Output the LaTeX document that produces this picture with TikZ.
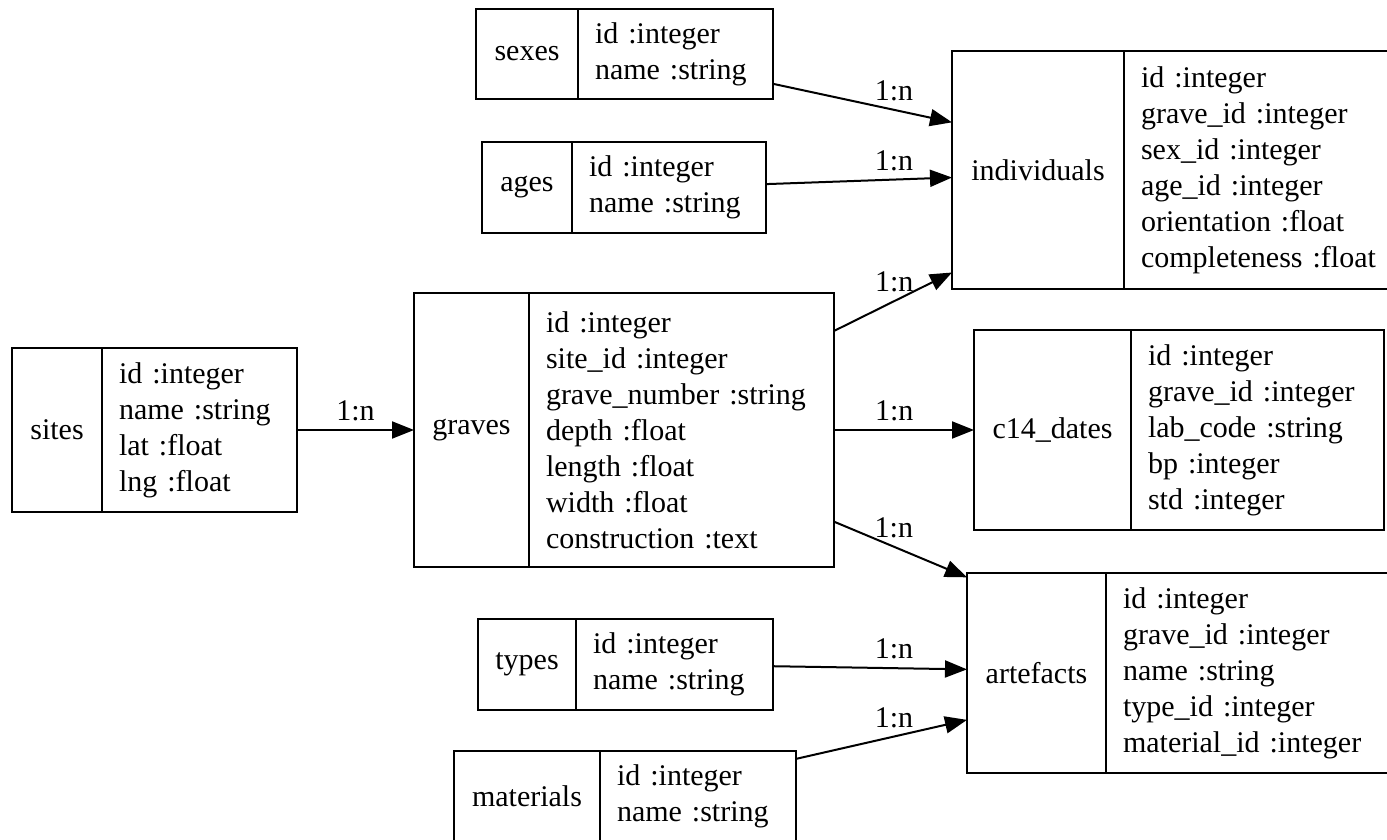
\documentclass[tikz,border=0pt]{standalone}
\usepackage{fontspec}
\setmainfont{Liberation Serif}
\usetikzlibrary{positioning,
	arrows.meta}
\tikzset{
	tname/.style={draw, line width=1pt, inner sep=0pt, outer sep=0pt, anchor=north west},
	tfields/.style={draw, line width=1pt, inner xsep=8.5pt, inner ysep=0pt, outer sep=0pt, align=left, anchor=north west},
	rel/.style={-{Triangle[length=11pt,width=8.5pt]}, line width=1pt},
	card/.style={above=4pt, inner sep=0pt}
}

\begin{document}
\begin{tikzpicture}[x=0.5pt, y=-0.5pt, font=\fontsize{15}{18}\selectfont]
	\useasboundingbox (0,0) rectangle (1387,840);
	% tables
	\node (sites) [tname, minimum width=45pt, minimum height=82pt] at (12,348) {sites};
	\node (sitesf) [tfields, text width=80.5pt, minimum height=82pt] at (sites.north east) {id :integer\\name :string\\lat :float\\lng :float};
	\node (sexes) [tname, minimum width=51pt, minimum height=45pt] at (476,9) {sexes};
	\node (sexesf) [tfields, text width=80.5pt, minimum height=45pt] at (sexes.north east) {id :integer\\name :string};
	\node (ages) [tname, minimum width=45pt, minimum height=45.5pt] at (482,142) {ages};
	\node (agesf) [tfields, text width=80pt, minimum height=45.5pt] at (ages.north east) {id :integer\\name :string};
	\node (individuals) [tname, minimum width=86pt, minimum height=119pt] at (952,51) {individuals};
	\node (individualsf) [tfields, text width=125pt, minimum height=119pt] at (individuals.north east) {id :integer\\grave\_id :integer\\sex\_id :integer\\age\_id :integer\\orientation :float\\completeness :float};
	\node (graves) [tname, minimum width=57.5pt, minimum height=137pt] at (414,293) {graves};
	\node (gravesf) [tfields, text width=135.5pt, minimum height=137pt] at (graves.north east) {id :integer\\site\_id :integer\\grave\_number :string\\depth :float\\length :float\\width :float\\construction :text};
	\node (c14) [tname, minimum width=78.5pt, minimum height=100pt] at (974,330) {c14\_dates};
	\node (c14f) [tfields, text width=109.5pt, minimum height=100pt] at (c14.north east) {id :integer\\grave\_id :integer\\lab\_code :string\\bp :integer\\std :integer};
	\node (artefacts) [tname, minimum width=69.5pt, minimum height=100pt] at (967,573) {artefacts};
	\node (artefactsf) [tfields, text width=127pt, minimum height=100pt] at (artefacts.north east) {id :integer\\grave\_id :integer\\name :string\\type\_id :integer\\material\_id :integer};
	\node (types) [tname, minimum width=49pt, minimum height=45.5pt] at (478,619) {types};
	\node (typesf) [tfields, text width=81.5pt, minimum height=45.5pt] at (types.north east) {id :integer\\name :string};
	\node (materials) [tname, minimum width=73pt, minimum height=45.5pt] at (454,751) {materials};
	\node (materialsf) [tfields, text width=81pt, minimum height=45.5pt] at (materials.north east) {id :integer\\name :string};
	% relations
	\draw[rel] (sitesf.east) -- node[card] (r1) {1:n} (graves.west);
	\draw[rel] (sexesf.-17.6) -- node[card, pos=0.676] (r2) {1:n} (individuals.151.3);
	\draw[rel] (agesf.2.7) -- node[card, pos=0.688] (r3) {1:n} (individuals.185.3);
	\draw[rel] (gravesf.33) -- node[card, pos=0.51] (r4) {1:n} (individuals.230.9);
	\draw[rel] (gravesf.east) -- node[card, pos=0.43] (r5) {1:n} (c14.west);
	\draw[rel] (gravesf.-31.4) -- node[card, pos=0.45] (r6) {1:n} (artefacts.126.2);
	\draw[rel] (typesf.-1.5) -- node[card, pos=0.624] (r7) {1:n} (artefacts.177.5);
	\draw[rel] (materialsf.21.4) -- node[card, pos=0.573] (r8) {1:n} (artefacts.214);
\end{tikzpicture}
\end{document}
